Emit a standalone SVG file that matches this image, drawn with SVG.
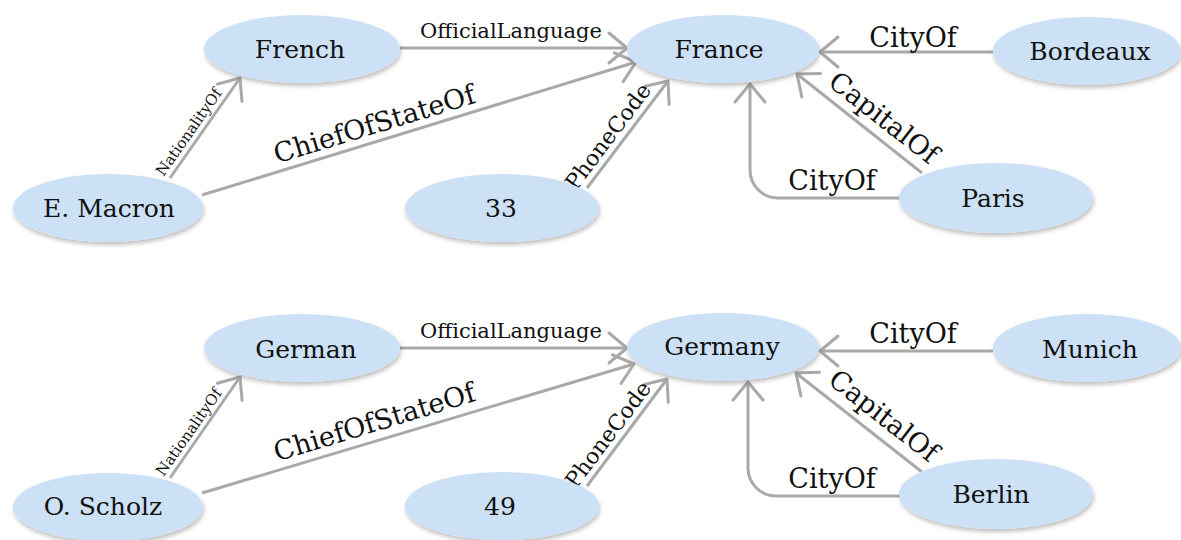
<svg xmlns="http://www.w3.org/2000/svg" width="1181" height="540" viewBox="0 0 1181 540">
  <style>
    .node ellipse { fill: #cde1f6; filter: url(#shadow); }
    .node text { font-family: "DejaVu Serif", "Liberation Serif", serif; font-size: 25px; fill: #111111; text-anchor: middle; }
    .edge { fill: none; stroke: #a9a9a9; stroke-width: 3; marker-end: url(#arrow); }
    .lbl { font-family: "DejaVu Serif", "Liberation Serif", serif; fill: #111111; text-anchor: middle; }
    .s27 { font-size: 27px; }
    .s22 { font-size: 22px; }
    .s21 { font-size: 21px; }
    .s15 { font-size: 15px; }
  </style>
  <defs>
    <filter id="shadow" x="-10%" y="-15%" width="120%" height="140%">
      <feDropShadow dx="1" dy="3" stdDeviation="2" flood-color="#000" flood-opacity="0.25"/>
    </filter>
    <marker id="arrow" markerUnits="userSpaceOnUse" orient="auto" viewBox="-22 -18 26 36" refX="0" refY="0" markerWidth="26" markerHeight="36" overflow="visible">
      <path d="M-18,-15 L0,0 L-18,15" fill="none" stroke="#a9a9a9" stroke-width="3" stroke-linecap="round" stroke-linejoin="round"/>
    </marker>
  </defs>

  <rect width="1181" height="540" fill="#ffffff"/>

  <!-- connectors -->
  <g id="connectors">
    <!-- France graph -->
    <path class="edge" d="M400,48 L627,48"/>
    <text class="lbl s21" x="511" y="38">OfficialLanguage</text>
    <path class="edge" d="M170,178 L240,78"/>
    <text class="lbl s15" transform="translate(193,135) rotate(-55)">NationalityOf</text>
    <path class="edge" d="M202,195 L636,62"/>
    <text class="lbl s27" transform="translate(377,133) rotate(-17)">ChiefOfStateOf</text>
    <path class="edge" d="M587,188 L668,81"/>
    <text class="lbl s22" transform="translate(614,141) rotate(-53)">PhoneCode</text>
    <path class="edge" d="M993,52 L820,52"/>
    <text class="lbl s27" x="913" y="47">CityOf</text>
    <path class="edge" d="M922,173 L797,74"/>
    <text class="lbl s27" transform="translate(878,125) rotate(38)">CapitalOf</text>
    <path class="edge" d="M900,198 H778 A28,28 0 0 1 750,170 V84"/>
    <text class="lbl s27" x="832" y="190">CityOf</text>

    <!-- Germany graph -->
    <path class="edge" d="M400,348 L627,348"/>
    <text class="lbl s21" x="511" y="338">OfficialLanguage</text>
    <path class="edge" d="M170,478 L240,377"/>
    <text class="lbl s15" transform="translate(193,435) rotate(-55)">NationalityOf</text>
    <path class="edge" d="M202,493 L634,364"/>
    <text class="lbl s27" transform="translate(377,431) rotate(-17)">ChiefOfStateOf</text>
    <path class="edge" d="M587,486 L667,379"/>
    <text class="lbl s22" transform="translate(614,439) rotate(-53)">PhoneCode</text>
    <path class="edge" d="M993,351 L820,351"/>
    <text class="lbl s27" x="913" y="343">CityOf</text>
    <path class="edge" d="M922,472 L796,373"/>
    <text class="lbl s27" transform="translate(878,423) rotate(38)">CapitalOf</text>
    <path class="edge" d="M900,496 H776 A28,28 0 0 1 748,468 V382"/>
    <text class="lbl s27" x="832" y="488">CityOf</text>
  </g>

  <!-- France graph nodes -->
  <g id="french" class="node"><ellipse cx="302" cy="49" rx="98" ry="34"/><text x="300" y="58">French</text></g>
  <g id="macron" class="node"><ellipse cx="108" cy="208" rx="95" ry="34"/><text x="109" y="217">E. Macron</text></g>
  <g id="france" class="node"><ellipse cx="723" cy="49" rx="96" ry="34"/><text x="719" y="58">France</text></g>
  <g id="code33" class="node"><ellipse cx="502" cy="208" rx="97" ry="34"/><text x="501" y="217">33</text></g>
  <g id="bordeaux" class="node"><ellipse cx="1087" cy="51" rx="94" ry="34"/><text x="1090" y="60">Bordeaux</text></g>
  <g id="paris" class="node"><ellipse cx="996" cy="198" rx="97" ry="35"/><text x="993" y="207">Paris</text></g>

  <!-- Germany graph nodes -->
  <g id="german" class="node"><ellipse cx="302" cy="348" rx="98" ry="34"/><text x="306" y="358">German</text></g>
  <g id="scholz" class="node"><ellipse cx="108" cy="507" rx="95" ry="34"/><text x="103" y="515">O. Scholz</text></g>
  <g id="germany" class="node"><ellipse cx="723" cy="347" rx="96" ry="34"/><text x="722" y="355">Germany</text></g>
  <g id="code49" class="node"><ellipse cx="502" cy="506" rx="97" ry="34"/><text x="500" y="515">49</text></g>
  <g id="munich" class="node"><ellipse cx="1087" cy="348" rx="94" ry="34"/><text x="1090" y="358">Munich</text></g>
  <g id="berlin" class="node"><ellipse cx="996" cy="494" rx="97" ry="35"/><text x="991" y="503">Berlin</text></g>
</svg>
